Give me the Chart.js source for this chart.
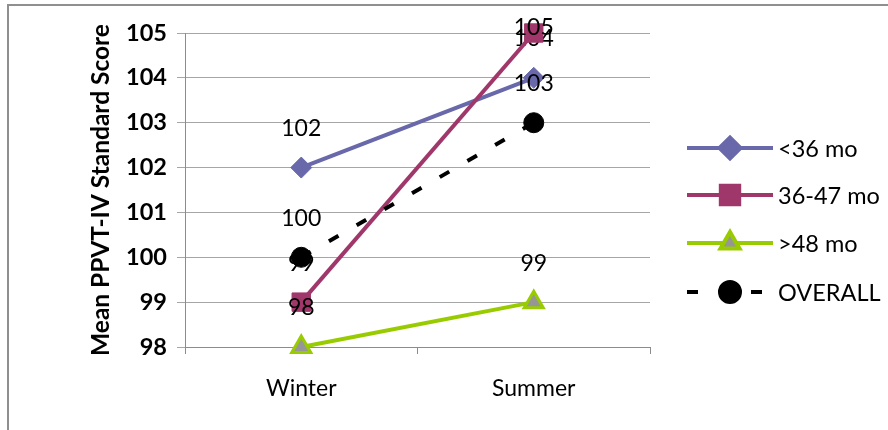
<!DOCTYPE html>
<html>
<head>
<meta charset="utf-8">
<script src="https://cdn.jsdelivr.net/npm/chart.js@4/dist/chart.umd.min.js"></script>
<style>
  html, body { margin: 0; padding: 0; background: #ffffff; }
  canvas { display: block; }
</style>
</head>
<body>
<canvas id="ppvt" width="888" height="430"></canvas>
<script>
// Seasons on the category axis
const categories = ['Winter', 'Summer'];

// Mean PPVT-IV standard scores by age group
const under36 = [102, 104];
const age36to47 = [99, 105];
const over48 = [98, 99];
const overall = [100, 103];

const seriesNames = ['<36 mo', '36-47 mo', '>48 mo', 'OVERALL'];
const yTicks = [98, 99, 100, 101, 102, 103, 104, 105];

const FONT = 'Lato, "Open Sans", sans-serif';

// White background plus the outer frame lines
const framePlugin = {
  id: 'frame',
  beforeDraw(chart) {
    const ctx = chart.ctx;
    ctx.save();
    ctx.fillStyle = '#ffffff';
    ctx.fillRect(0, 0, chart.width, chart.height);
    ctx.strokeStyle = '#8f8f8f';
    ctx.lineWidth = 2;
    ctx.beginPath();
    ctx.moveTo(8, chart.height);
    ctx.lineTo(8, 5);
    ctx.lineTo(chart.width, 5);
    ctx.stroke();
    ctx.restore();
  }
};

// Value labels above each point, drawn right after their own series
const valueLabels = {
  id: 'valueLabels',
  afterDatasetDraw(chart, args) {
    const ctx = chart.ctx;
    const ds = chart.data.datasets[args.index];
    ctx.save();
    ctx.font = '23px ' + FONT;
    ctx.fillStyle = '#000000';
    ctx.textAlign = 'center';
    ctx.textBaseline = 'middle';
    args.meta.data.forEach((pt, i) => {
      const y = Math.max(pt.y - 39, 28);
      ctx.fillText(String(ds.data[i]), pt.x, y);
    });
    ctx.restore();
  }
};

// Legend on the right: line sample with marker, then the series name
const sideLegend = {
  id: 'sideLegend',
  afterDraw(chart) {
    const ctx = chart.ctx;
    const rows = [148, 195, 243, 292];
    chart.data.datasets.forEach((ds, i) => {
      const y = rows[i];
      ctx.save();
      ctx.strokeStyle = ds.borderColor;
      ctx.lineWidth = ds.borderWidth;
      ctx.lineCap = 'butt';
      ctx.setLineDash(ds.borderDash || []);
      ctx.beginPath();
      ctx.moveTo(687, y);
      ctx.lineTo(773, y);
      ctx.stroke();
      ctx.setLineDash([]);
      ctx.fillStyle = ds.pointBackgroundColor;
      ctx.strokeStyle = ds.pointBorderColor;
      Chart.helpers.drawPoint(ctx, {
        pointStyle: ds.pointStyle,
        radius: ds.pointRadius,
        rotation: 0,
        borderWidth: ds.pointBorderWidth
      }, 730, y);
      ctx.fillStyle = '#000000';
      ctx.font = '23.5px ' + FONT;
      ctx.textAlign = 'left';
      ctx.textBaseline = 'middle';
      ctx.fillText(ds.label, 778, y + 1);
      ctx.restore();
    });
  }
};

const blue = '#6868aa';
const maroon = '#a0376a';
const green = '#99cc00';

new Chart(document.getElementById('ppvt'), {
  type: 'line',
  data: {
    labels: categories,
    datasets: [
      {
        label: seriesNames[0], data: under36, order: 3,
        borderColor: blue, borderWidth: 4,
        pointStyle: 'rectRot', pointRadius: 10.5,
        pointBackgroundColor: blue, pointBorderColor: blue, pointBorderWidth: 1
      },
      {
        label: seriesNames[1], data: age36to47, order: 2,
        borderColor: maroon, borderWidth: 4,
        pointStyle: 'rect', pointRadius: 13,
        pointBackgroundColor: maroon, pointBorderColor: maroon, pointBorderWidth: 1
      },
      {
        label: seriesNames[2], data: over48, order: 1,
        borderColor: green, borderWidth: 4,
        pointStyle: 'triangle', pointRadius: 11,
        pointBackgroundColor: '#969696', pointBorderColor: green, pointBorderWidth: 3
      },
      {
        label: seriesNames[3], data: overall, order: 0,
        borderColor: '#000000', borderWidth: 4, borderDash: [11, 21],
        pointStyle: 'circle', pointRadius: 10,
        pointBackgroundColor: '#000000', pointBorderColor: '#000000', pointBorderWidth: 1
      }
    ]
  },
  options: {
    responsive: false,
    animation: false,
    devicePixelRatio: 1,
    events: [],
    elements: { line: { tension: 0 } },
    datasets: { line: { clip: false } },
    layout: { padding: { left: 0, top: 33, right: 238, bottom: 0 } },
    plugins: {
      legend: { display: false },
      tooltip: { enabled: false }
    },
    scales: {
      x: {
        type: 'category',
        offset: true,
        grid: { offset: true, drawOnChartArea: false, drawTicks: true, tickLength: 7, color: '#8c8c8c' },
        border: { color: '#8c8c8c', width: 1 },
        ticks: { color: '#000000', font: { family: FONT, size: 23 }, padding: 21, maxRotation: 0 },
        afterFit(scale) { scale.height = 83; }
      },
      y: {
        min: yTicks[0],
        max: yTicks[yTicks.length - 1],
        afterBuildTicks(scale) { scale.ticks = yTicks.map(v => ({ value: v })); },
        grid: { color: '#a6a6a6', tickLength: 8 },
        border: { color: '#8c8c8c', width: 1 },
        ticks: { color: '#000000', font: { family: FONT, size: 23.5, weight: 'bold' }, padding: 10 },
        title: {
          display: true,
          text: 'Mean PPVT-IV Standard Score',
          color: '#000000',
          font: { family: FONT, size: 24.5, weight: 'bold' },
          padding: { top: 86, bottom: 0 }
        },
        afterFit(scale) { scale.width = 185; }
      }
    }
  },
  plugins: [framePlugin, valueLabels, sideLegend]
});
</script>
</body>
</html>
